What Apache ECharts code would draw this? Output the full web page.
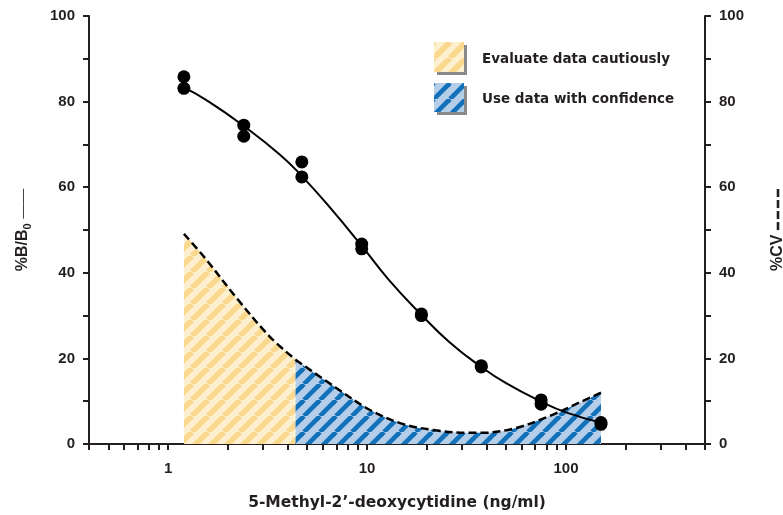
<!DOCTYPE html>
<html><head><meta charset="utf-8">
<script src="https://cdn.jsdelivr.net/npm/echarts@6/dist/echarts.min.js"></script>
<style>html,body{margin:0;padding:0;background:#fff}#c{width:783px;height:515px}</style>
</head><body><div id="c"></div>
<script>
// ---- data ----
const conc = [1.2, 2.4, 4.7, 9.4, 18.75, 37.5, 75, 150];
const rep1 = [85.8, 74.5, 65.9, 46.7, 30.4, 18.3, 10.3, 5.0];
const rep2 = [83.1, 71.9, 62.4, 45.6, 30.0, 18.0, 9.3, 4.6];
const fitX = [1.2, 1.6, 2.4, 3.65, 4.7, 6.47, 9.4, 12.9, 18.75, 25.8, 37.5, 50, 75, 100, 150];
const fitY = [83.3, 80.0, 74.3, 67.6, 62.6, 55.4, 46.3, 38.3, 30.2, 23.9, 18.0, 14.2, 9.9, 7.4, 5.0];
const cvX = [1.2, 1.51, 2.21, 3.24, 4.37, 7.0, 10.3, 15.1, 22.1, 32.5, 37.8, 55.6, 81.5, 119.6, 150];
const cvY = [49.1, 43.8, 34.1, 25.1, 19.7, 13.1, 8.0, 4.7, 3.2, 2.6, 2.6, 3.7, 6.4, 9.9, 12.0];
const cautionEnd = 4.37;
const xMin = 0.4, xMax = 500;
const xMajorTicks = [1, 10, 100];
const xMinorTicks = [0.4, 0.5, 0.6, 0.7, 0.8, 0.9, 1, 2, 3, 4, 5, 6, 7, 8, 9, 10, 20, 30, 40, 50, 60, 70, 80, 90, 100, 200, 300, 400, 500];
const yLabels = [0, 20, 40, 60, 80, 100];
const yTicks = [0, 10, 20, 30, 40, 50, 60, 70, 80, 90, 100];
const legendNames = ['Evaluate data cautiously', 'Use data with confidence'];
const xName = '5-Methyl-2\u2019-deoxycytidine (ng/ml)';

// ---- helpers ----
const L = Math.log10;
function hatch(bg, fg, period, lw) {
  const c = document.createElement('canvas');
  c.width = period; c.height = period;
  const g = c.getContext('2d');
  g.fillStyle = bg; g.fillRect(0, 0, period, period);
  g.strokeStyle = fg; g.lineWidth = lw;
  for (const k of [-period, 0, period]) {
    g.beginPath(); g.moveTo(k, period); g.lineTo(k + period, 0); g.stroke();
  }
  return c;
}
const yellowPat = { image: hatch('#FDF0CE', '#FAD88E', 16, 5.6), repeat: 'repeat' };
const bluePat = { image: hatch('#B4CDE9', '#1271B8', 16, 4.6), repeat: 'repeat' };

const ink = '#231f20';
const cvPairs = cvX.map((x, i) => [L(x), cvY[i]]);
const cautionData = cvPairs.filter((p, i) => cvX[i] <= cautionEnd);
const confData = cvPairs.filter((p, i) => cvX[i] >= cautionEnd);
const pts = conc.map((x, i) => [L(x), rep1[i]]).concat(conc.map((x, i) => [L(x), rep2[i]]));
const fit = fitX.map((x, i) => [L(x), fitY[i]]);

const tickLbl = { fontFamily: 'Liberation Sans', fontWeight: 'bold', fontSize: 15, color: ink };
const yAxisBase = (pos) => ({
  type: 'value', position: pos, min: 0, max: 100,
  axisLine: { show: true, onZero: false, lineStyle: { color: ink, width: 2 } },
  axisTick: { show: true, customValues: yTicks, length: 6, lineStyle: { color: ink, width: 2 } },
  axisLabel: Object.assign({ customValues: yLabels, margin: 14 }, tickLbl),
  splitLine: { show: false },
  nameLocation: 'middle', nameRotate: 90
});
const dash = { width: 8, height: 2.6, backgroundColor: ink, fontSize: 1, verticalAlign: 'middle' };
const gap = { width: 3, height: 2.6, fontSize: 1 };

const chart = echarts.init(document.getElementById('c'));
chart.setOption({
  animation: false,
  backgroundColor: '#fff',
  grid: { left: 89, right: 78, top: 16, bottom: 71, containLabel: false, outerBoundsMode: 'none' },
  xAxis: {
    type: 'value', min: L(xMin), max: L(xMax),
    axisLine: { show: true, onZero: false, lineStyle: { color: ink, width: 2 } },
    axisTick: { show: true, customValues: xMinorTicks.map(L), length: 6, lineStyle: { color: ink, width: 2 } },
    axisLabel: Object.assign({ customValues: xMajorTicks.map(L), margin: 17,
      formatter: v => String(Math.round(Math.pow(10, v))) }, tickLbl),
    splitLine: { show: false },
    name: xName, nameLocation: 'middle', nameGap: 51,
    nameTextStyle: { fontFamily: 'DejaVu Sans', fontWeight: 'bold', fontSize: 15.5, color: ink }
  },
  yAxis: [
    Object.assign(yAxisBase('left'), {
      name: '{a|%B/B}{s|0}{a| }{l|\u2014\u2014}', nameGap: 56,
      nameTextStyle: { color: ink, rich: {
        a: { fontFamily: 'Liberation Sans', fontWeight: 'bold', fontSize: 16, lineHeight: 20, color: ink },
        s: { fontFamily: 'Liberation Sans', fontWeight: 'bold', fontSize: 11, lineHeight: 20, verticalAlign: 'bottom', color: ink },
        l: { fontFamily: 'Liberation Sans', fontWeight: 'normal', fontSize: 15, lineHeight: 20, color: '#444' }
      } }
    }),
    Object.assign(yAxisBase('right'), {
      name: '{a|%CV }{d| }{g| }{d| }{g| }{d| }{g| }{d| }', nameGap: 63,
      nameTextStyle: { color: ink, rich: {
        a: { fontFamily: 'Liberation Sans', fontWeight: 'bold', fontSize: 16, lineHeight: 20, color: ink },
        d: dash, g: gap
      } }
    })
  ],
  series: [
    { type: 'line', name: legendNames[0], data: cautionData, smooth: 0.35, symbol: 'none', z: 1,
      lineStyle: { color: '#000', width: 2.5, type: [8, 4] }, areaStyle: { color: yellowPat, opacity: 1 } },
    { type: 'line', name: legendNames[1], data: confData, smooth: 0.35, symbol: 'none', z: 1,
      lineStyle: { color: '#000', width: 2.5, type: [8, 4] }, areaStyle: { color: bluePat, opacity: 1 } },
    { type: 'line', data: fit, smooth: 0.5, symbol: 'none', z: 3,
      lineStyle: { color: '#000', width: 2 } },
    { type: 'scatter', data: pts, symbol: 'circle', symbolSize: 13, z: 4,
      itemStyle: { color: '#000', opacity: 1 } }
  ],
  graphic: [
    { type: 'rect', left: 437, top: 45, shape: { width: 30, height: 30 }, style: { fill: '#8a8a8a' }, z: 10 },
    { type: 'rect', left: 434, top: 42, shape: { width: 30, height: 30 }, style: { fill: yellowPat }, z: 11 },
    { type: 'rect', left: 437, top: 86, shape: { width: 30, height: 29 }, style: { fill: '#8a8a8a' }, z: 10 },
    { type: 'rect', left: 434, top: 83, shape: { width: 30, height: 29 }, style: { fill: bluePat }, z: 11 },
    { type: 'text', left: 482, top: 52, z: 11, style: { text: legendNames[0], fill: ink,
      font: 'bold 13.5px "DejaVu Sans"' } },
    { type: 'text', left: 482, top: 92, z: 11, style: { text: legendNames[1], fill: ink,
      font: 'bold 13.5px "DejaVu Sans"' } }
  ]
});
</script></body></html>
